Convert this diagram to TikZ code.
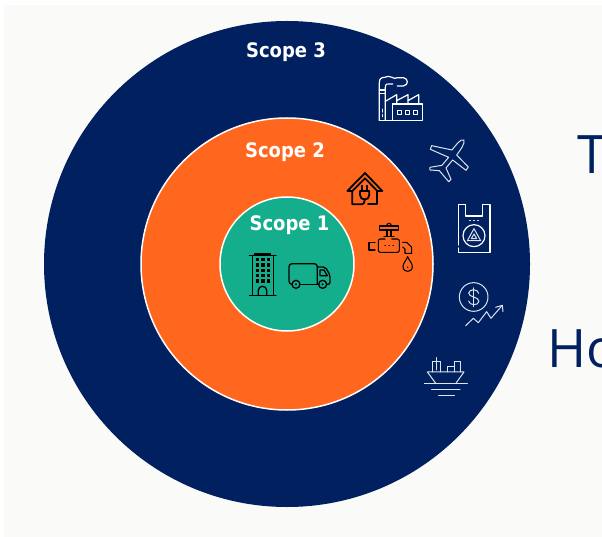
\documentclass[tikz,border=0pt]{standalone}
\usepackage{fontspec}
\setmainfont{Noto Sans}
\newfontfamily\bigfont{Open Sans}
\newfontfamily\scopefont{DejaVu Sans Condensed}[BoldFont={DejaVu Sans Condensed Bold}]
\definecolor{navy}{HTML}{002060}
\definecolor{orangefill}{HTML}{FF671F}
\definecolor{greenfill}{HTML}{15AE8C}
\definecolor{paper}{HTML}{FAFAF8}
\tikzset{
  scopelabel/.style={text=white,font=\scopefont\bfseries\fontsize{20}{24}\selectfont,inner sep=0pt,anchor=base},
  biglabel/.style={text=navy,font=\bigfont\fontsize{53}{60}\selectfont,inner sep=0pt,anchor=base west},
  ringline/.style={draw=white,line width=1.5pt},
  zone/.style={x=0.3333pt,y=-0.3333pt,line join=round,line cap=round},
  iconW/.style={draw=white,line width=1.2pt},
  iconWthin/.style={draw=white!88!navy,line width=1pt},
  iconK/.style={draw=black,line width=1.3pt},
  iconKheavy/.style={draw=black,line width=1.8pt},
  iconKthin/.style={draw=black,line width=1.05pt},
  zfactory/.style={shift={(340,60)},zone},
  zbag/.style={shift={(410,190)},zone},
  zbuild/.style={shift={(240,245)},zone},
  zhouse/.style={shift={(340,165)},zone}
}
\begin{document}
\begin{tikzpicture}[x=1pt,y=-1pt]
\useasboundingbox (0,0) rectangle (602,537);
\fill[white] (0,0) rectangle (602,537);
\fill[paper] (4.3,5) rectangle (602,537);
% rings
\fill[navy] (287,264) circle (243);
\path[fill=orangefill,ringline] (287,264) circle (146);
\path[fill=greenfill,ringline] (287,264) circle (67);
% labels
\node[scopelabel] (s3) at (286,58) {Scope 3};
\node[scopelabel] (s2) at (285,158) {Scope 2};
\node[scopelabel] (s1) at (289.5,231) {Scope 1};
\node[biglabel] (t1) at (577,174) {T};
\node[biglabel] (t2) at (547,367) {Ho};
% factory
\begin{scope}[zfactory]
\draw[iconW] (118,181) -- (247,181) -- (247,132) -- (158,132) -- (158,181);
\draw[iconW] (118,181) -- (118,68) .. controls (118,56) and (124,52) .. (134,52)
  .. controls (140,48) and (150,48) .. (156,52) .. controls (162,56) and (166,56) .. (172,53)
  -- (190,53) .. controls (206,55) and (206,76) .. (190,78) -- (172,78);
\draw[iconW] (136,181) -- (136,82) .. controls (136,72) and (142,70) .. (150,72) -- (158,72);
\draw[iconW] (118,90) -- (136,90) (118,100) -- (136,100);
\draw[iconW] (136,124) -- (170,104) -- (170,132) (170,122) -- (204,104) -- (204,132) (204,122) -- (236,104) -- (236,132);
\draw[iconW] (128,148) -- (128,156) (128,164) -- (128,170);
\draw[iconW] (172,151) rectangle (184,163) (196,151) rectangle (208,163) (220,151) rectangle (232,163);
\end{scope}
% airplane
\begin{scope}[zfactory]
\draw[iconWthin] (372,240) .. controls (376,250) and (360,272) .. (350,285) -- (385,321)
  -- (378,331) -- (338,300) -- (318,324) -- (333,358) -- (326,365) -- (298,332)
  -- (270,330) -- (270,322) -- (306,316) -- (326,292) -- (271,268) -- (275,257)
  -- (336,270) .. controls (346,258) and (362,234) .. (372,240) -- cycle;
\end{scope}
% bag
\begin{scope}[zbag]
\draw[iconW] (145,165) -- (145,44) -- (166,44) -- (166,78) -- (218,78) -- (218,44) -- (240,44) -- (240,187) -- (150,187);
\draw[iconW] (145,174) -- (145,187) -- (150,187);
\draw[iconW] (192,137) circle (33);
\draw[iconWthin] (192,116) -- (212,152) -- (172,152) -- cycle;
\draw[iconWthin] (192,132) -- (200,146) -- (184,146) -- cycle;
\draw[iconW] (179,91) -- (181,91) (191,91) -- (193,91) (203,91) -- (205,91);
\end{scope}
% dollar
\begin{scope}[zbag]
\draw[iconWthin] (191,321) circle (43);
\draw[iconWthin] (191,294) -- (191,350);
\draw[iconWthin] (206,310) .. controls (204,296) and (178,296) .. (176,309)
  .. controls (175,322) and (207,320) .. (207,334) .. controls (206,348) and (177,347) .. (176,333);
\draw[iconWthin] (167,407) -- (190,385) -- (205,398) -- (230,365) -- (243,385) -- (276,347);
\draw[iconWthin] (257,352) -- (277,346) -- (279,365);
\end{scope}
% ship
\begin{scope}[zbag]
\draw[iconWthin] (78,581) -- (52,546) -- (162,546) -- (137,581);
\draw[iconWthin] (43,581) -- (172,581) (65,600) -- (150,600) (86,616) -- (133,616);
\draw[iconWthin] (68,546) -- (68,516) -- (92,516) -- (92,546);
\draw[iconWthin] (80,503) -- (80,540);
\draw[iconWthin] (112,546) -- (112,530) -- (132,530) (132,546) -- (132,516) -- (152,516) -- (152,546);
\end{scope}
% building
\begin{scope}[zbuild]
\fill[black] (42,23) rectangle (94,31);
\draw[iconK] (28,31) -- (108,31) (28,151) -- (108,151) (38,31) -- (38,151) (100,31) -- (100,151);
\foreach \cx in {53,69,85}{
  \foreach \cy in {44,60,76,92,108}{
    \fill[black] (\cx-5,\cy-5) rectangle (\cx+5,\cy+5);
  }
}
\draw[iconK] (55,151) -- (55,136) .. controls (55,120) and (80,120) .. (80,136) -- (80,151);
\end{scope}
% truck
\begin{scope}[zbuild]
\draw[iconK,rounded corners=3pt] (156,118) -- (147,118) -- (147,56) -- (232,56) -- (232,118);
\draw[iconK] (180,118) -- (236,118);
\draw[iconK,rounded corners=2pt] (232,66) -- (256,66) -- (270,90) -- (270,118) -- (260,118);
\draw[iconK] (240,75) -- (252,75) -- (262,92) -- (240,92) -- cycle;
\draw[iconK] (168,118) circle (12) (248,118) circle (12);
\fill[black] (168,118) circle (3.5) (248,118) circle (3.5);
\end{scope}
% house
\begin{scope}[zhouse]
\draw[iconKheavy] (22,78) -- (75,24) -- (127,78) -- (112,78) -- (75,40) -- (37,78) -- cycle;
\draw[iconKheavy] (37,78) -- (37,118) -- (66,118) .. controls (72,118) and (74,112) .. (74,104);
\draw[iconKheavy] (112,78) -- (112,118) -- (84,118);
\draw[iconKheavy] (66,62) -- (66,78) (82,62) -- (82,78);
\draw[iconKheavy] (60,78) -- (88,78) -- (88,90) .. controls (88,108) and (60,108) .. (60,90) -- cycle;
\end{scope}
% pipe
\begin{scope}[zhouse]
\draw[iconKthin] (118,183) rectangle (175,195);
\draw[iconKthin] (140,183) .. controls (140,172) and (154,172) .. (154,183);
\draw[iconKthin] (141,195) -- (141,214) (153,195) -- (153,214);
\draw[iconKthin] (132,214) -- (162,214);
\draw[iconKthin,rounded corners=2pt] (135,222) -- (115,222) -- (115,262) -- (178,262) -- (178,222) -- (155,222);
\draw[iconKthin] (135,242) -- (136,242) (147,242) -- (148,242) (159,242) -- (160,242);
\draw[iconKthin] (105,232) -- (87,232) -- (87,255) -- (105,255);
\draw[iconKthin] (188,232) -- (200,232) -- (215,247) -- (215,265) -- (195,265) -- (195,252) -- (188,246);
\draw[iconKthin] (203,275) .. controls (198,288) and (189,294) .. (189,305)
  .. controls (189,324) and (217,324) .. (217,305) .. controls (217,294) and (208,288) .. (203,275) -- cycle;
\fill[black] (203,307) circle (2.5);
\end{scope}
\end{tikzpicture}
\end{document}
